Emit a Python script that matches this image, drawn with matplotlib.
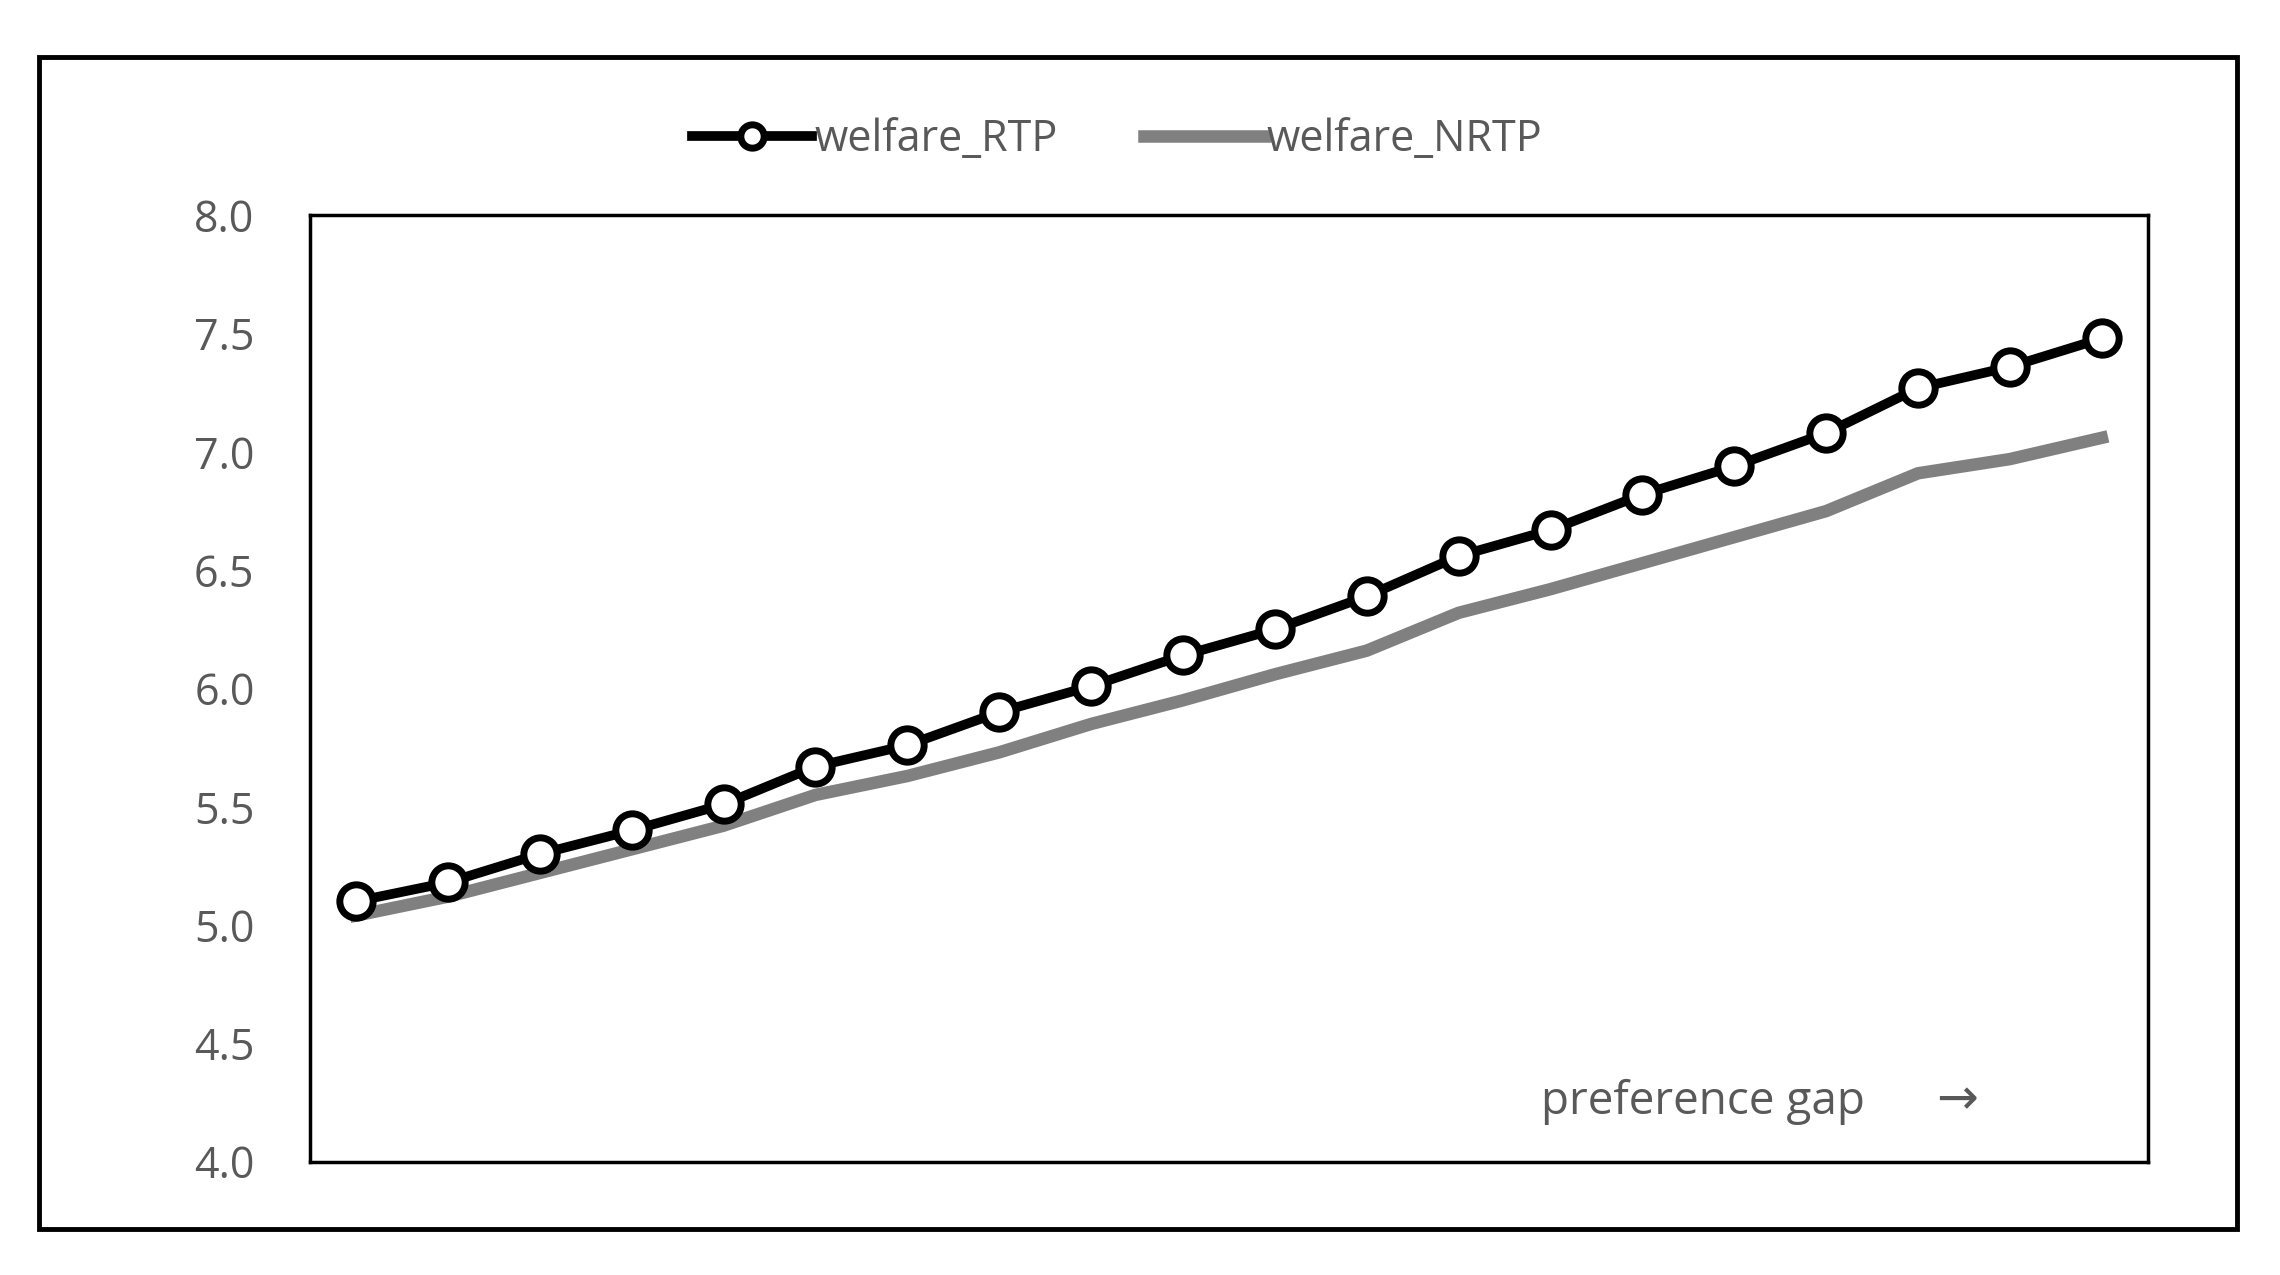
import numpy as np
import matplotlib.pyplot as plt
from matplotlib.patches import Rectangle

steps = np.arange(20)
welfare_rtp = [5.10, 5.18, 5.30, 5.40, 5.51, 5.67, 5.76, 5.90, 6.01, 6.14,
               6.25, 6.39, 6.56, 6.67, 6.82, 6.94, 7.08, 7.27, 7.36, 7.48]
welfare_nrtp = [5.04, 5.12, 5.22, 5.32, 5.42, 5.55, 5.63, 5.73, 5.85, 5.95,
                6.06, 6.16, 6.32, 6.42, 6.53, 6.64, 6.75, 6.91, 6.97, 7.06]
yticks = [4.0, 4.5, 5.0, 5.5, 6.0, 6.5, 7.0, 7.5, 8.0]

plt.rcParams['font.family'] = ['Open Sans', 'DejaVu Sans']
grey_txt = '#595959'

fig = plt.figure(figsize=(22.8, 12.75), dpi=100)
fig.patches.append(Rectangle((0.017, 0.036), 0.964, 0.919, transform=fig.transFigure,
                             fill=False, edgecolor='black', linewidth=3.5))
ax = fig.add_axes([0.136, 0.089, 0.806, 0.742])

ax.plot(steps, welfare_nrtp, color='#808080', linewidth=9, label='welfare_NRTP', zorder=2)
ax.plot(steps, welfare_rtp, color='black', linewidth=7, marker='o', markersize=24,
        markerfacecolor='white', markeredgecolor='black', markeredgewidth=5,
        label='welfare_RTP', zorder=3)

ax.set_xlim(-0.5, 19.5)
ax.set_ylim(4.0, 8.0)
ax.set_yticks(yticks)
ax.set_yticklabels([f'{v:.1f}' for v in yticks])
ax.set_xticks([])
ax.tick_params(axis='y', length=0, pad=40, labelsize=31, labelcolor=grey_txt)
for s in ax.spines.values():
    s.set_linewidth(2.5)

ax.text(0.67, 0.05, 'preference gap', transform=ax.transAxes,
        fontsize=33, color=grey_txt)
ax.text(0.885, 0.05, '\u2192', transform=ax.transAxes, family='DejaVu Sans',
        fontsize=36, color=grey_txt)

handles, labels = ax.get_legend_handles_labels()
fig.legend(handles[::-1], labels[::-1], loc='center', bbox_to_anchor=(0.49, 0.89), ncol=2,
           frameon=False, fontsize=31, labelcolor=grey_txt, handlelength=2.8,
           columnspacing=2.0, handletextpad=0.05, markerscale=0.7)

fig.savefig('out.png', dpi=100)
